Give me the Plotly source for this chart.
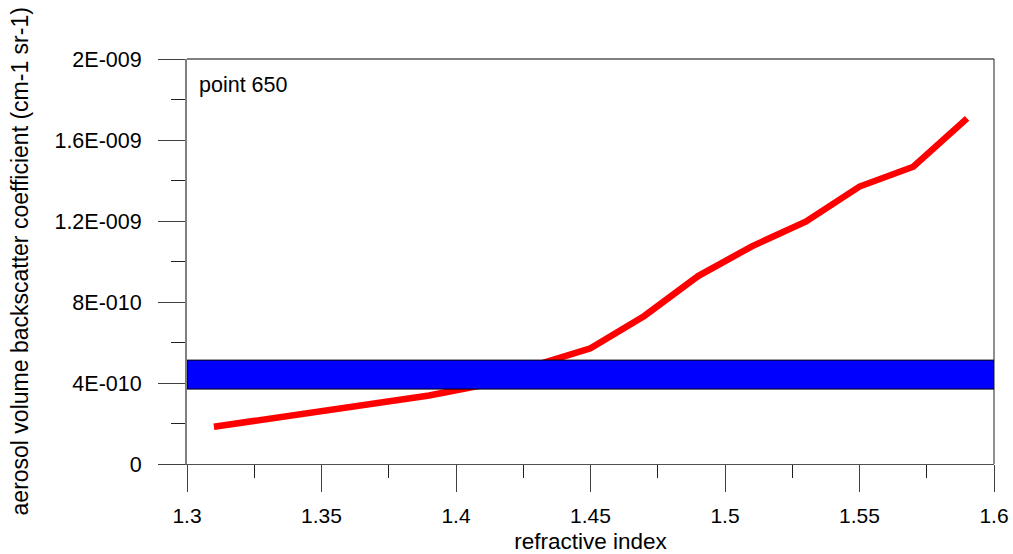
import plotly.graph_objects as go

# Data
refr_index = [1.31, 1.33, 1.35, 1.37, 1.39, 1.41, 1.43, 1.45, 1.47, 1.49, 1.51, 1.53, 1.55, 1.57, 1.59]
backscatter = [1.84e-10, 2.23e-10, 2.62e-10, 3.00e-10, 3.38e-10, 3.90e-10, 4.90e-10, 5.71e-10,
               7.31e-10, 9.28e-10, 10.75e-10, 11.97e-10, 13.7e-10, 14.68e-10, 17.07e-10]

band_x = [1.3, 1.6]
band_lo = 3.70e-10
band_hi = 5.13e-10

x_tickvals = [1.3, 1.35, 1.4, 1.45, 1.5, 1.55, 1.6]
x_ticktext = ["1.3", "1.35", "1.4", "1.45", "1.5", "1.55", "1.6"]
x_minor = [1.325, 1.375, 1.425, 1.475, 1.525, 1.575]
y_tickvals = [0, 4e-10, 8e-10, 1.2e-9, 1.6e-9, 2e-9]
y_ticktext = ["0", "4E-010", "8E-010", "1.2E-009", "1.6E-009", "2E-009"]
y_minor = [2e-10, 6e-10, 1e-9, 1.4e-9, 1.8e-9]

FONT = "Liberation Sans, Arial, sans-serif"

fig = go.Figure()
fig.add_trace(go.Scatter(x=refr_index, y=backscatter, mode="lines",
                         line=dict(color="#ff0000", width=6.5), hoverinfo="skip",
                         showlegend=False))
fig.add_trace(go.Scatter(
    x=[band_x[0], band_x[1], band_x[1], band_x[0], band_x[0]],
    y=[band_lo, band_lo, band_hi, band_hi, band_lo],
    mode="lines", fill="toself", fillcolor="#0000ff",
    line=dict(color="#000000", width=1), showlegend=False, hoverinfo="skip"))

fig.update_layout(
    width=1013, height=554,
    margin=dict(l=187, r=19, t=59, b=90, autoexpand=False),
    paper_bgcolor="white", plot_bgcolor="white",
    font=dict(family=FONT, size=21, color="black"),
    xaxis=dict(range=[1.3, 1.6], tickmode="array", tickvals=x_tickvals, ticktext=x_ticktext,
               ticks="outside", ticklen=27, tickcolor="#404040", tickwidth=1,
               minor=dict(tickmode="array", tickvals=x_minor, ticks="outside", ticklen=13,
                          tickcolor="#202020", tickwidth=1, showgrid=False),
               showline=True, linecolor="#505050", linewidth=1, showgrid=False, zeroline=False,
               ticklabelstandoff=6,
               title=dict(text="refractive index", standoff=8, font=dict(size=22.5))),
    yaxis=dict(range=[0, 2e-9], tickmode="array", tickvals=y_tickvals, ticktext=y_ticktext,
               ticks="outside", ticklen=27, tickcolor="#404040", tickwidth=1,
               minor=dict(tickmode="array", tickvals=y_minor, ticks="outside", ticklen=14,
                          tickcolor="#202020", tickwidth=1, showgrid=False),
               showline=True, linecolor="#808080", linewidth=2, showgrid=False, zeroline=False,
               ticklabelstandoff=12, tickfont=dict(size=21.5)),
    shapes=[
        dict(type="line", xref="paper", yref="paper", x0=0, x1=1, y0=1, y1=1,
             line=dict(color="#808080", width=2)),
        dict(type="line", xref="paper", yref="paper", x0=1, x1=1, y0=0, y1=1,
             line=dict(color="#202020", width=1)),
    ],
    annotations=[
        dict(text="point 650", xref="paper", yref="paper", x=0.012, y=0.937,
             xanchor="left", yanchor="middle", showarrow=False,
             font=dict(size=21.5, color="black")),
        dict(text="aerosol volume backscatter coefficient (cm-1 sr-1)", xref="paper", yref="paper",
             x=-0.207, y=0.5, xanchor="center", yanchor="middle", textangle=-90,
             showarrow=False, font=dict(size=23, color="black")),
    ],
)

fig.write_html("out.html")
